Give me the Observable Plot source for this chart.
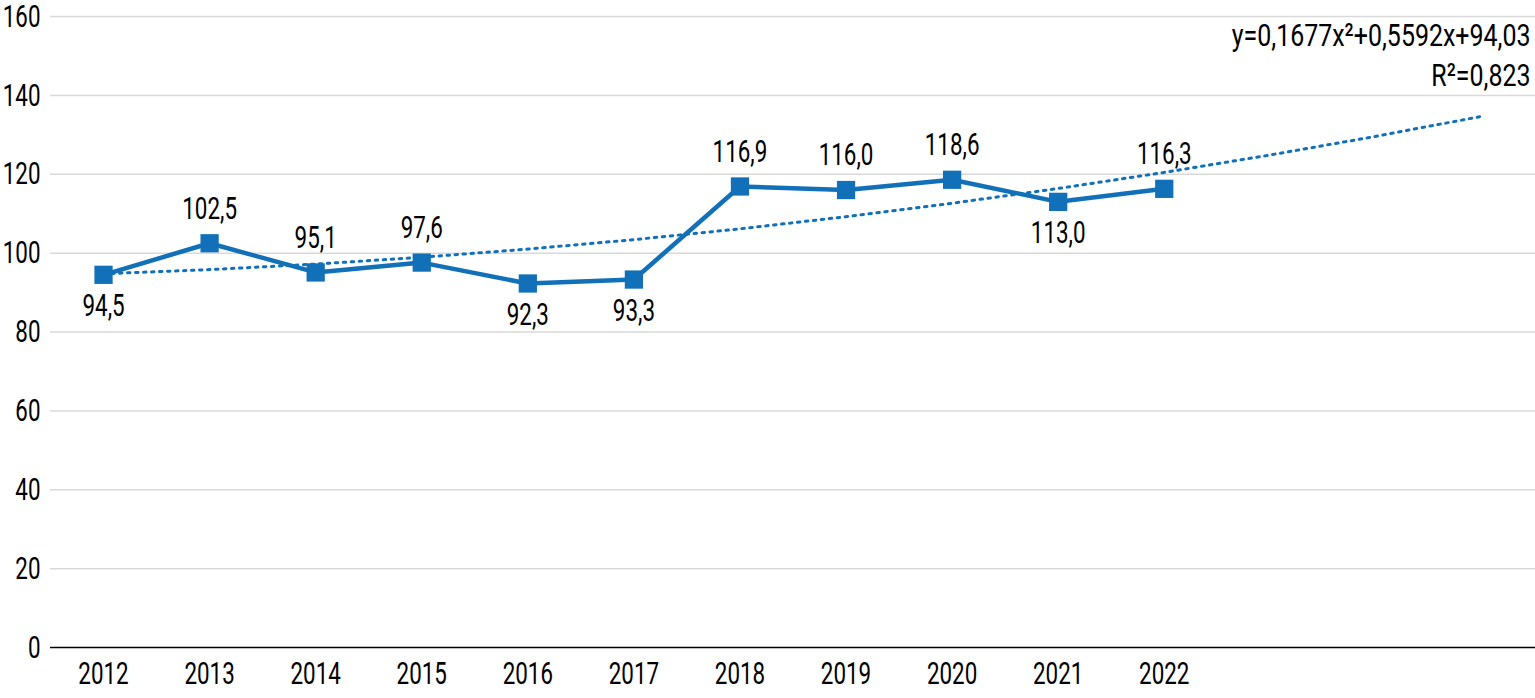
<!DOCTYPE html>
<html>
<head>
<meta charset="utf-8">
<script src="https://cdn.jsdelivr.net/npm/d3@7"></script>
<script src="https://cdn.jsdelivr.net/npm/@observablehq/plot@0.6"></script>
<style>
  html, body { margin: 0; padding: 0; background: #fff; }
  #chart svg { display: block; }
</style>
</head>
<body>
<div id="chart"></div>
<script>
const years = [2012, 2013, 2014, 2015, 2016, 2017, 2018, 2019, 2020, 2021, 2022];
const values = [94.5, 102.5, 95.1, 97.6, 92.3, 93.3, 116.9, 116.0, 118.6, 113.0, 116.3];
const labelBelow = [true, false, false, false, true, true, false, false, false, true, false];
// polynomial trend (as stated on chart), evaluated at each period incl. 3 forecast periods
const trendYears = [2012, 2013, 2014, 2015, 2016, 2017, 2018, 2019, 2020, 2021, 2022, 2023, 2024, 2025];
const trendValues = [94.76, 95.82, 97.22, 98.95, 101.02, 103.42, 106.16, 109.24, 112.65, 116.39, 120.47, 124.89, 129.64, 134.73];
const yTicks = [0, 20, 40, 60, 80, 100, 120, 140, 160];
const equationText = "y=0,1677x²+0,5592x+94,03\nR²=0,823";

const data = years.map((y, i) => ({year: y, value: values[i], below: labelBelow[i]}));
const trend = trendYears.map((y, i) => ({year: y, value: trendValues[i]}));
const fmt = v => v.toFixed(1).replace(".", ",");
const font = "Roboto, 'DejaVu Sans', sans-serif";
const blue = "#1170b8";
const FS = 32;
const SX = 0.7;
const SX_EQ = 0.78;

const chart = Plot.plot({
  width: 1535,
  height: 698,
  marginLeft: 50,
  marginRight: 0,
  marginTop: 16,
  marginBottom: 51,
  style: {fontFamily: font, fontSize: FS + "px", color: "#000", background: "#fff"},
  x: {domain: [2011.5, 2025.5], axis: null},
  y: {domain: [0, 160], axis: null},
  marks: [
    Plot.ruleY(yTicks.filter(d => d > 0), {stroke: "#d9d9d9", strokeWidth: 1.5}),
    Plot.ruleY([0], {stroke: "#000", strokeWidth: 1.5}),
    Plot.axisY({ticks: yTicks, tickSize: 0, tickPadding: 10, fontSize: FS, label: null, tickFormat: d => String(d)}),
    Plot.axisX({ticks: years, tickSize: 0, tickPadding: 14, fontSize: FS, label: null, tickFormat: d => String(d)}),
    Plot.line(trend, {x: "year", y: "value", stroke: blue, strokeWidth: 3, strokeDasharray: "2.5,5.5"}),
    Plot.line(data, {x: "year", y: "value", stroke: blue, strokeWidth: 4.5}),
    Plot.dot(data, {x: "year", y: "value", symbol: "square", r: 10.3, fill: blue, stroke: "none"}),
    Plot.text(data.filter(d => !d.below), {x: "year", y: "value", text: d => fmt(d.value), dy: -35, fontSize: FS, fill: "#000"}),
    Plot.text(data.filter(d => d.below), {x: "year", y: "value", text: d => fmt(d.value), dy: 31, fontSize: FS, fill: "#000"}),
    Plot.text([equationText], {frameAnchor: "top-right", text: d => d, textAnchor: "end", lineAnchor: "middle", dx: -5, dy: 37, fontSize: FS, lineHeight: 1.22, fill: "#000", className: "eq"})
  ]
});
// condense glyphs horizontally around each text's anchor point
chart.querySelectorAll("text").forEach(t => {
  const s = t.closest(".eq") ? SX_EQ : SX;
  const tr = (t.getAttribute("transform") || "").trim();
  const x = t.getAttribute("x");
  if (x != null && x !== "") t.setAttribute("x", String(parseFloat(x) / s));
  t.querySelectorAll("tspan[x]").forEach(sp => sp.setAttribute("x", String(parseFloat(sp.getAttribute("x")) / s)));
  t.setAttribute("transform", (tr ? tr + " " : "") + `scale(${s},1)`);
});
document.getElementById("chart").appendChild(chart);
</script>
</body>
</html>
